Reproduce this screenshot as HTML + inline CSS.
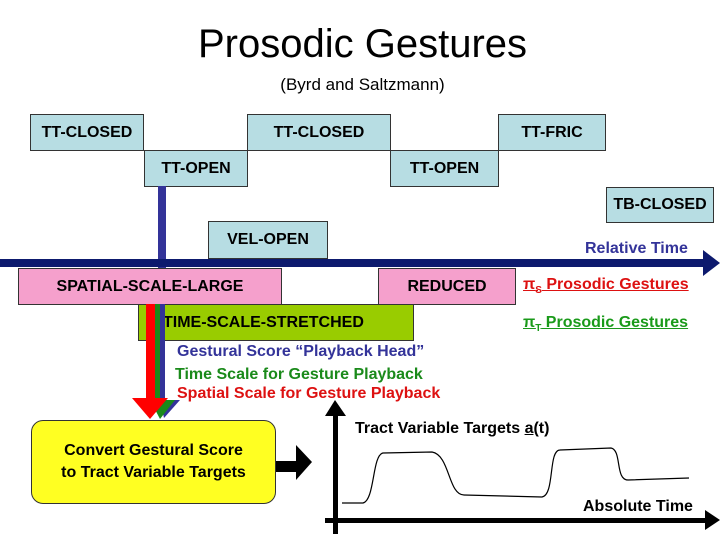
<!DOCTYPE html>
<html><head><style>
body{margin:0;width:720px;height:540px;background:#fff;position:relative;overflow:hidden;font-family:"Liberation Sans",sans-serif}
.b{position:absolute;box-sizing:border-box;border:1px solid #333;display:flex;align-items:center;justify-content:center;font-size:16px;color:#000;font-weight:bold}
.c{background:#b7dde3}
.t{position:absolute;white-space:nowrap;font-weight:bold}
</style></head><body>
<div class="t" style="left:0;width:725px;text-align:center;top:22px;font-size:40px;font-weight:normal">Prosodic Gestures</div>
<div class="t" style="left:0;width:725px;text-align:center;top:75px;font-size:17px;font-weight:normal">(Byrd and Saltzmann)</div>
<div class="b c" style="left:30px;top:114px;width:114px;height:37px">TT-CLOSED</div>
<div class="b c" style="left:247px;top:114px;width:144px;height:37px">TT-CLOSED</div>
<div class="b c" style="left:498px;top:114px;width:108px;height:37px">TT-FRIC</div>
<div class="b c" style="left:144px;top:150px;width:104px;height:37px">TT-OPEN</div>
<div class="b c" style="left:390px;top:150px;width:109px;height:37px">TT-OPEN</div>
<div class="b c" style="left:606px;top:187px;width:108px;height:36px">TB-CLOSED</div>
<div class="b c" style="left:208px;top:221px;width:120px;height:38px">VEL-OPEN</div>
<svg width="720" height="540" style="position:absolute;left:0;top:0">
<rect x="158" y="186" width="8" height="82" fill="#333399"/>
<rect x="0" y="259" width="708" height="8" fill="#0d1a6e"/>
<polygon points="703,250 720,263 703,276" fill="#0d1a6e"/>
</svg>
<div class="t" style="left:585px;top:240px;font-size:16px;color:#333399">Relative Time</div>
<div class="b" style="left:18px;top:268px;width:264px;height:37px;background:#f5a0cc">SPATIAL-SCALE-LARGE</div>
<div class="b" style="left:378px;top:268px;width:138px;height:37px;background:#f5a0cc">REDUCED</div>
<div class="b" style="left:138px;top:304px;width:276px;height:37px;background:#99cc00;justify-content:flex-start;padding-left:24px">TIME-SCALE-STRETCHED</div>
<div class="t" style="left:523px;top:276px;font-size:16px;color:#dd1111;text-decoration:underline">π<sub style="font-size:10px">S</sub> Prosodic Gestures</div>
<div class="t" style="left:523px;top:314px;font-size:16px;color:#1a9a1a;text-decoration:underline">π<sub style="font-size:10px">T</sub> Prosodic Gestures</div>
<svg width="720" height="540" style="position:absolute;left:0;top:0">
<rect x="158" y="304" width="7" height="100" fill="#333399"/>
<rect x="154" y="304" width="6" height="100" fill="#1a8a1a"/>
<rect x="146" y="304" width="9" height="100" fill="#ff0000"/>
<polygon points="160,400 180,400 164,418" fill="#333399"/>
<polygon points="150,400 175,400 160,419" fill="#1a8a1a"/>
<polygon points="132,398 168,398 150,419" fill="#ff0000"/>
<polygon points="276,461 296,461 296,445 312,462 296,480 296,472 276,472" fill="#000"/>
<rect x="333" y="410" width="5" height="124" fill="#000"/>
<polygon points="325,416 335,400 346,416" fill="#000"/>
<rect x="325" y="518" width="385" height="5" fill="#000"/>
<polygon points="705,510 720,520 705,530" fill="#000"/>
<path d="M342,503 L363,503 C375,500 372,455 383,453 L432,452 C450,455 448,495 464,495 L542,497 C555,495 548,450 560,450 L611,448 C622,450 615,480 628,480 L689,478" fill="none" stroke="#000" stroke-width="1.2"/>
</svg>
<div class="t" style="left:177px;top:343px;font-size:16px;color:#333399">Gestural Score “Playback Head”</div>
<div class="t" style="left:175px;top:366px;font-size:16px;color:#1a8a1a">Time Scale for Gesture Playback</div>
<div class="t" style="left:177px;top:385px;font-size:16px;color:#dd1111">Spatial Scale for Gesture Playback</div>
<div class="b" style="left:31px;top:420px;width:245px;height:84px;background:#ffff22;border-radius:12px;text-align:center;line-height:22px">Convert Gestural Score<br>to Tract Variable Targets</div>
<div class="t" style="left:355px;top:420px;font-size:16px">Tract Variable Targets <u>a</u>(t)</div>
<div class="t" style="left:583px;top:498px;font-size:16px">Absolute Time</div>
</body></html>
